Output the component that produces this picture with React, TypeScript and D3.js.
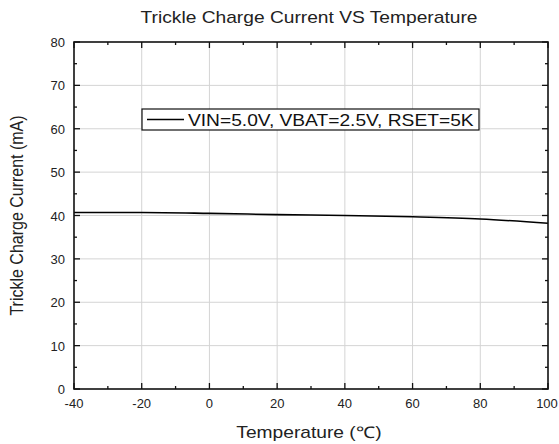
import React, { useEffect, useRef } from 'react';
import * as d3 from 'd3';

// data
const temps = [-40, -20, 0, 20, 40, 60, 80, 100];
const current = [40.7, 40.7, 40.5, 40.2, 40.0, 39.7, 39.2, 38.2];
const xTicks = [-40, -20, 0, 20, 40, 60, 80, 100];
const yTicks = [0, 10, 20, 30, 40, 50, 60, 70, 80];
const seriesName = 'VIN=5.0V, VBAT=2.5V, RSET=5K';

const App = () => {
  const ref = useRef<SVGSVGElement>(null);

  useEffect(() => {
    const width = 559;
    const height = 444;
    const m = { left: 74, right: 11, top: 42, bottom: 55 };
    const font = '"Liberation Sans", Arial, sans-serif';
    const sx = 1.2; // big texts of the original look stretched sideways

    const svg = d3.select(ref.current);
    svg.selectAll('*').remove();

    const x = d3.scaleLinear().domain([-40, 100]).range([m.left, width - m.right]);
    const y = d3.scaleLinear().domain([0, 80]).range([height - m.bottom, m.top]);

    const grid = svg.append('g').attr('stroke', '#d4d4d4').attr('stroke-width', 1);
    grid.selectAll('.vx')
      .data(xTicks.slice(1, -1))
      .enter().append('line')
      .attr('x1', d => x(d)).attr('x2', d => x(d))
      .attr('y1', y(0)).attr('y2', y(80));
    grid.selectAll('.hy')
      .data(yTicks.slice(1, -1))
      .enter().append('line')
      .attr('x1', x(-40)).attr('x2', x(100))
      .attr('y1', d => y(d)).attr('y2', d => y(d));

    // the curve
    const line = d3.line<number>()
      .x((d, i) => x(temps[i]))
      .y(d => y(d))
      .curve(d3.curveMonotoneX);
    svg.append('path')
      .datum(current)
      .attr('d', line)
      .attr('fill', 'none')
      .attr('stroke', '#000')
      .attr('stroke-width', 1.6);

    // frame
    svg.append('rect')
      .attr('x', x(-40)).attr('y', y(80))
      .attr('width', x(100) - x(-40)).attr('height', y(0) - y(80))
      .attr('fill', 'none').attr('stroke', '#111').attr('stroke-width', 1.6);

    const ticks = svg.append('g').attr('stroke', '#111').attr('stroke-width', 1.3);
    const xMinor = d3.range(-40, 101, 10);
    const yMinor = d3.range(0, 81, 5);
    ticks.selectAll('.tb')
      .data(xMinor)
      .enter().append('line')
      .attr('x1', d => x(d)).attr('x2', d => x(d))
      .attr('y1', y(0)).attr('y2', d => y(0) - (d % 20 === 0 ? 6 : 3));
    ticks.selectAll('.tt')
      .data(xMinor)
      .enter().append('line')
      .attr('x1', d => x(d)).attr('x2', d => x(d))
      .attr('y1', y(80)).attr('y2', d => y(80) + (d % 20 === 0 ? 6 : 3));
    ticks.selectAll('.tl')
      .data(yMinor)
      .enter().append('line')
      .attr('y1', d => y(d)).attr('y2', d => y(d))
      .attr('x1', x(-40)).attr('x2', d => x(-40) + (d % 10 === 0 ? 6 : 3));
    ticks.selectAll('.tr')
      .data(yMinor)
      .enter().append('line')
      .attr('y1', d => y(d)).attr('y2', d => y(d))
      .attr('x1', x(100)).attr('x2', d => x(100) - (d % 10 === 0 ? 6 : 3));

    svg.selectAll('.xl')
      .data(xTicks)
      .enter().append('text')
      .attr('x', d => (d === 100 ? x(d) - 1 : x(d)))
      .attr('y', y(0) + 19)
      .attr('text-anchor', 'middle')
      .attr('font-family', font).attr('font-size', 13).attr('fill', '#222')
      .text(d => d);
    svg.selectAll('.yl')
      .data(yTicks)
      .enter().append('text')
      .attr('x', x(-40) - 9)
      .attr('y', d => y(d) + 5)
      .attr('text-anchor', 'end')
      .attr('font-family', font).attr('font-size', 13).attr('fill', '#222')
      .text(d => d);

    svg.append('text')
      .attr('transform', `translate(309,23) scale(${sx},1)`)
      .attr('text-anchor', 'middle')
      .attr('font-family', font).attr('font-size', 16).attr('fill', '#222')
      .text('Trickle Charge Current VS Temperature');
    svg.append('text')
      .attr('transform', `translate(${(x(-40) + x(100)) / 2 - 2},438) scale(${sx},1)`)
      .attr('text-anchor', 'middle')
      .attr('font-family', font).attr('font-size', 16).attr('fill', '#222')
      .text('Temperature (\u2103)');
    svg.append('text')
      .attr('transform', `translate(23, ${(y(0) + y(80)) / 2}) scale(${sx},1) rotate(-90)`)
      .attr('text-anchor', 'middle')
      .attr('font-family', font).attr('font-size', 16).attr('fill', '#222')
      .text('Trickle Charge Current (mA)');

    // legend
    const legend = svg.append('g').attr('transform', 'translate(142, 109)');
    legend.append('rect')
      .attr('width', 337).attr('height', 21)
      .attr('fill', '#fff').attr('stroke', '#111').attr('stroke-width', 1.2);
    legend.append('line')
      .attr('x1', 5).attr('x2', 42).attr('y1', 10.5).attr('y2', 10.5)
      .attr('stroke', '#000').attr('stroke-width', 1.6);
    legend.append('text')
      .attr('transform', `translate(46,16.5) scale(${sx},1)`)
      .attr('font-family', font).attr('font-size', 16).attr('fill', '#111')
      .text(seriesName);
  }, []);

  return (
    <svg ref={ref} width={559} height={444}
      style={{ position: 'absolute', left: 0, top: 0, background: '#fff' }} />
  );
};

export default App;
